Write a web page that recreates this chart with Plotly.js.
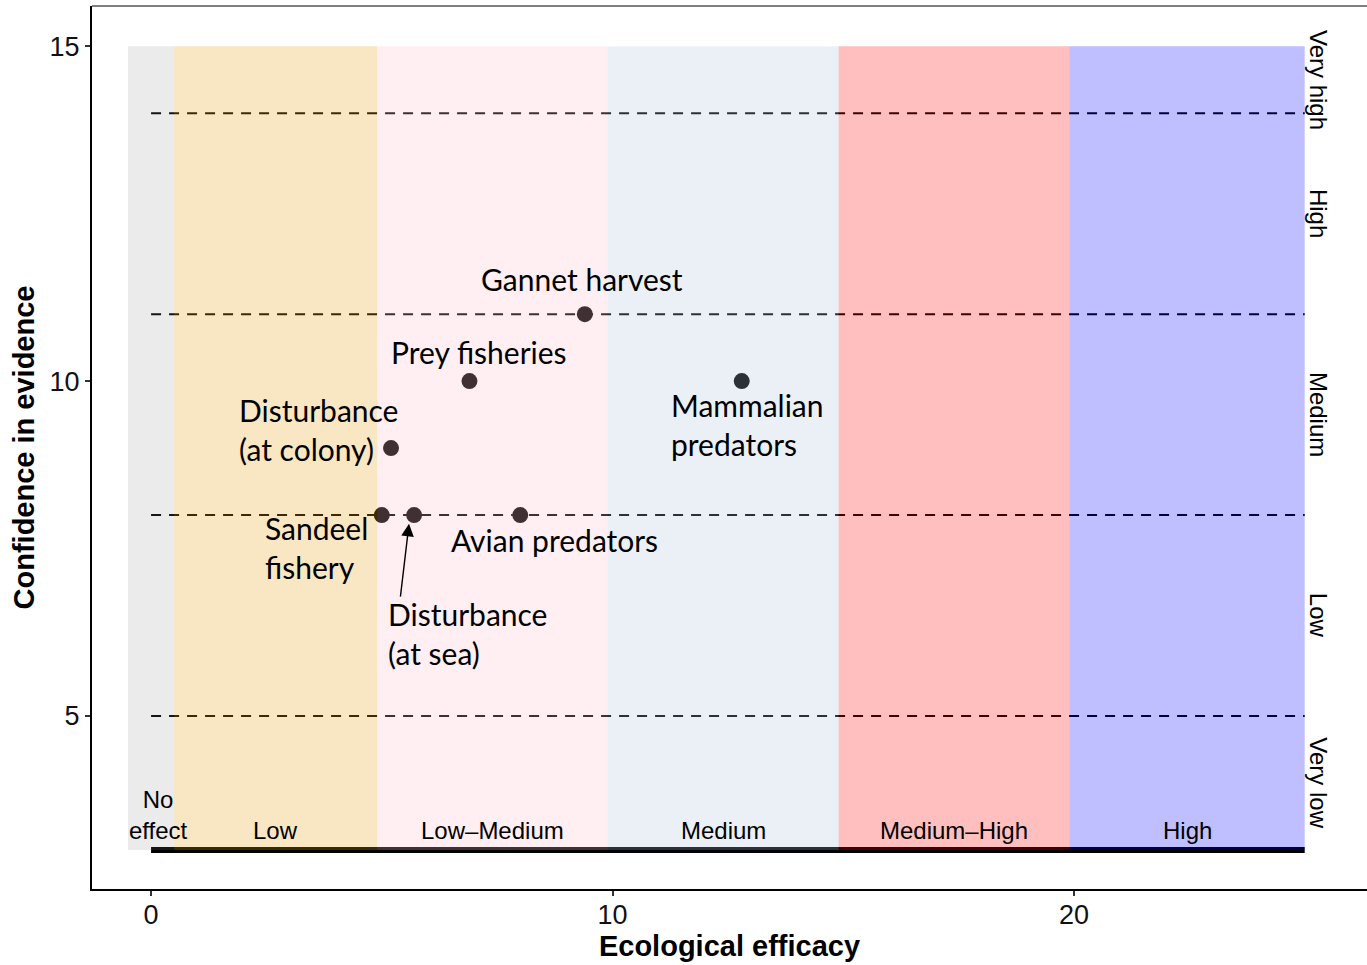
<!DOCTYPE html>
<html>
<head>
<meta charset="utf-8">
<script src="https://cdn.plot.ly/plotly-3.0.1.min.js"></script>
<style>html,body{margin:0;padding:0;background:#fff;}#chart{width:1367px;height:965px;}</style>
</head>
<body>
<div id="chart"></div>
<script>
// ---- data ----
const pointNames = ['Gannet harvest', 'Prey fisheries', 'Mammalian<br>predators', 'Disturbance<br>(at colony)', 'Sandeel<br>fishery', 'Disturbance<br>(at sea)', 'Avian predators'];
const efficacy = [9.4, 6.9, 12.8, 5.2, 5.0, 5.7, 8.0];
const confidence = [11, 10, 10, 9, 8, 8, 8];

const bandLabels = ['No<br>effect', 'Low', 'Low–Medium', 'Medium', 'Medium–High', 'High'];
const bandStart = [-0.5, 0.5, 4.9, 9.9, 14.9, 19.9];
const bandEnd = [0.5, 4.9, 9.9, 14.9, 19.9, 25];

const confidenceBounds = [3, 5, 8, 11, 14, 15];
const confidenceLabels = ['Very low', 'Low', 'Medium', 'High', 'Very high'];

const xTicks = [0, 10, 20];
const yTicks = [5, 10, 15];

// ---- styles ----
const bandColors = ['rgba(128,128,128,0.16)', 'rgba(230,160,20,0.26)', 'rgba(255,192,203,0.25)',
                    'rgba(176,196,222,0.25)', 'rgba(255,0,0,0.25)', 'rgba(0,0,255,0.25)'];
// label offsets in pixels relative to each point: [xanchor, xshift, yshift(center of block)]
const labelPlace = [
  ['center', -3, 35],
  ['center', 10, 29],
  ['left', -73, -43],
  ['left', -154, 19],
  ['left', -119, -32],
  ['left', -28, -118],
  ['left', -71, -25]
];
const labelFont = {family: 'Lato, "Noto Sans", sans-serif', size: 30, color: '#000'};
const sansFont = '"Liberation Sans", Arial, sans-serif';

const shapes = [];
const annotations = [];
const xMax = bandEnd[bandEnd.length - 1];
const yMin = confidenceBounds[0], yMax = confidenceBounds[confidenceBounds.length - 1];

// bottom black bar (under bands)
shapes.push({type: 'line', layer: 'below', xref: 'x', yref: 'y', x0: 0, x1: xMax, y0: yMin, y1: yMin,
  line: {color: '#000', width: 6}});
// dashed confidence lines
confidenceBounds.slice(1, -1).forEach(v => {
  shapes.push({type: 'line', layer: 'below', xref: 'x', yref: 'y', x0: 0, x1: xMax, y0: v, y1: v,
    line: {color: '#000', width: 2, dash: '10px,8px'}});
});
// translucent bands above
bandStart.forEach((s, i) => {
  shapes.push({type: 'rect', layer: 'above', xref: 'x', yref: 'y', x0: s, x1: bandEnd[i], y0: yMin, y1: yMax,
    fillcolor: bandColors[i], line: {width: 0}});
  annotations.push({x: (s + bandEnd[i]) / 2 + (i === 0 ? 0.17 : 0), y: yMin, xref: 'x', yref: 'y',
    text: bandLabels[i], showarrow: false, xanchor: 'center', yanchor: 'bottom', yshift: 4,
    font: {family: sansFont, size: 24, color: '#000'}});
});
// top border line
shapes.push({type: 'line', xref: 'paper', yref: 'paper', x0: 0, x1: 1, y0: 1, y1: 1,
  line: {color: '#808080', width: 2}});

// right-hand confidence labels
confidenceLabels.forEach((t, i) => {
  annotations.push({x: xMax, y: (confidenceBounds[i] + confidenceBounds[i + 1]) / 2, xref: 'x', yref: 'y',
    text: t, showarrow: false, textangle: 90, xanchor: 'center', yanchor: 'middle', xshift: 14,
    font: {family: sansFont, size: 24, color: '#000'}});
});

// point labels
pointNames.forEach((name, i) => {
  const p = labelPlace[i];
  annotations.push({x: efficacy[i], y: confidence[i], xref: 'x', yref: 'y', text: name, showarrow: false,
    xanchor: p[0], yanchor: 'middle', align: p[0] === 'center' ? 'center' : 'left',
    xshift: p[1], yshift: p[2], font: labelFont});
});

// arrow for Disturbance (at sea)
annotations.push({x: efficacy[5] - 0.11, y: confidence[5] - 0.13, xref: 'x', yref: 'y',
  ax: efficacy[5] - 0.3, ay: confidence[5] - 1.24, axref: 'x', ayref: 'y', text: '',
  showarrow: true, arrowhead: 2, arrowsize: 1.8, arrowwidth: 1.4, arrowcolor: '#000', standoff: 0});

const trace = {
  x: efficacy, y: confidence, mode: 'markers', type: 'scatter', text: pointNames, hoverinfo: 'text',
  marker: {color: '#000', size: 16}, showlegend: false
};

const axisFont = {family: sansFont, size: 27, color: '#111'};
const layout = {
  width: 1367, height: 965,
  margin: {l: 92, r: 0, t: 6, b: 76},
  paper_bgcolor: '#fff', plot_bgcolor: '#fff',
  showlegend: false,
  xaxis: {range: [-1.28, 26.35], tickvals: xTicks, ticktext: xTicks.map(String), ticks: 'outside', ticklen: 5,
    tickwidth: 1.5, tickcolor: '#333', showline: true, linecolor: '#000', linewidth: 2, showgrid: false,
    zeroline: false, tickfont: axisFont, automargin: false, ticklabelstandoff: -4,
    title: {text: '<b>Ecological efficacy</b>', standoff: 4,
      font: {family: sansFont, size: 29, color: '#000'}}},
  yaxis: {range: [2.418, 15.6], tickvals: yTicks, ticktext: yTicks.map(String), ticks: 'outside', ticklen: 5,
    tickwidth: 1.5, tickcolor: '#333', showline: true, linecolor: '#000', linewidth: 2, showgrid: false,
    zeroline: false, tickfont: axisFont, automargin: false,
    title: {text: '<b>Confidence in evidence</b>', standoff: 6,
      font: {family: sansFont, size: 29, color: '#000'}}},
  shapes: shapes,
  annotations: annotations
};

Plotly.newPlot('chart', [trace], layout, {displayModeBar: false, responsive: false});
</script>
</body>
</html>
